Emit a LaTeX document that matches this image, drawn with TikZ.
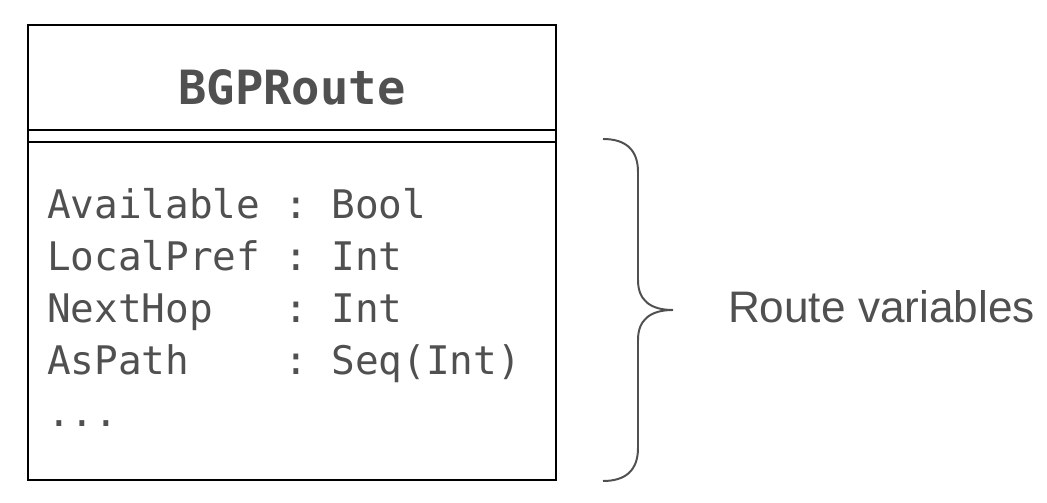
\documentclass[tikz,border=0pt]{standalone}
\usepackage{fontspec}
\setmonofont{DejaVu Sans Mono}
\setsansfont{Liberation Sans}
\usepackage{xcolor}
\usetikzlibrary{positioning,calc}
\definecolor{bgpgray}{RGB}{80,80,80}

\begin{document}
\begin{tikzpicture}[x=0.025cm, y=-0.025cm,
    every node/.style={inner sep=0pt, outer sep=0pt},
    field/.style={anchor=base west, text=bgpgray, font=\ttfamily\fontsize{28}{34}\selectfont}]
    \useasboundingbox (0,0) rectangle (1047,503);

    % Class box
    \node[draw, line width=1.4pt, minimum width=13.2cm, minimum height=11.375cm] (route) at (292,252.5) {};
    \node[anchor=base, text=bgpgray, font=\ttfamily\bfseries\fontsize{33.5}{40}\selectfont] (title) at (292,105) {BGPRoute};

    % Separator (double line)
    \draw[line width=1.4pt] (route.west |- 0,130) -- (route.east |- 0,130);
    \draw[line width=1.4pt] (route.west |- 0,142) -- (route.east |- 0,142);

    % Fields
    \node[field] (avail) at (47,219) {Available\ :\ Bool};
    \node[field] (pref) at (47,271) {LocalPref\ :\ Int};
    \node[field] (hop) at (47,323) {NextHop\ \ \ :\ Int};
    \node[field] (path) at (47,375) {AsPath\ \ \ \ :\ Seq(Int)};
    \node[field] (more) at (47,427) {...};

    % Brace
    \coordinate (btop) at (603,139);
    \coordinate (btip) at (673,310);
    \coordinate (bbot) at (603,481);
    \draw[bgpgray, line width=1.4pt] (btop) .. controls (626,139) and (638,150) .. (638,172)
        -- (638,280) .. controls (638,300) and (650,310) .. (btip)
        .. controls (650,310) and (638,320) .. (638,340)
        -- (638,448) .. controls (638,470) and (626,481) .. (bbot);

    % Label
    \node[anchor=base west, text=bgpgray, font=\sffamily\fontsize{31.4}{38}\selectfont] (vars) at (728,323) {Route variables};
\end{tikzpicture}
\end{document}
